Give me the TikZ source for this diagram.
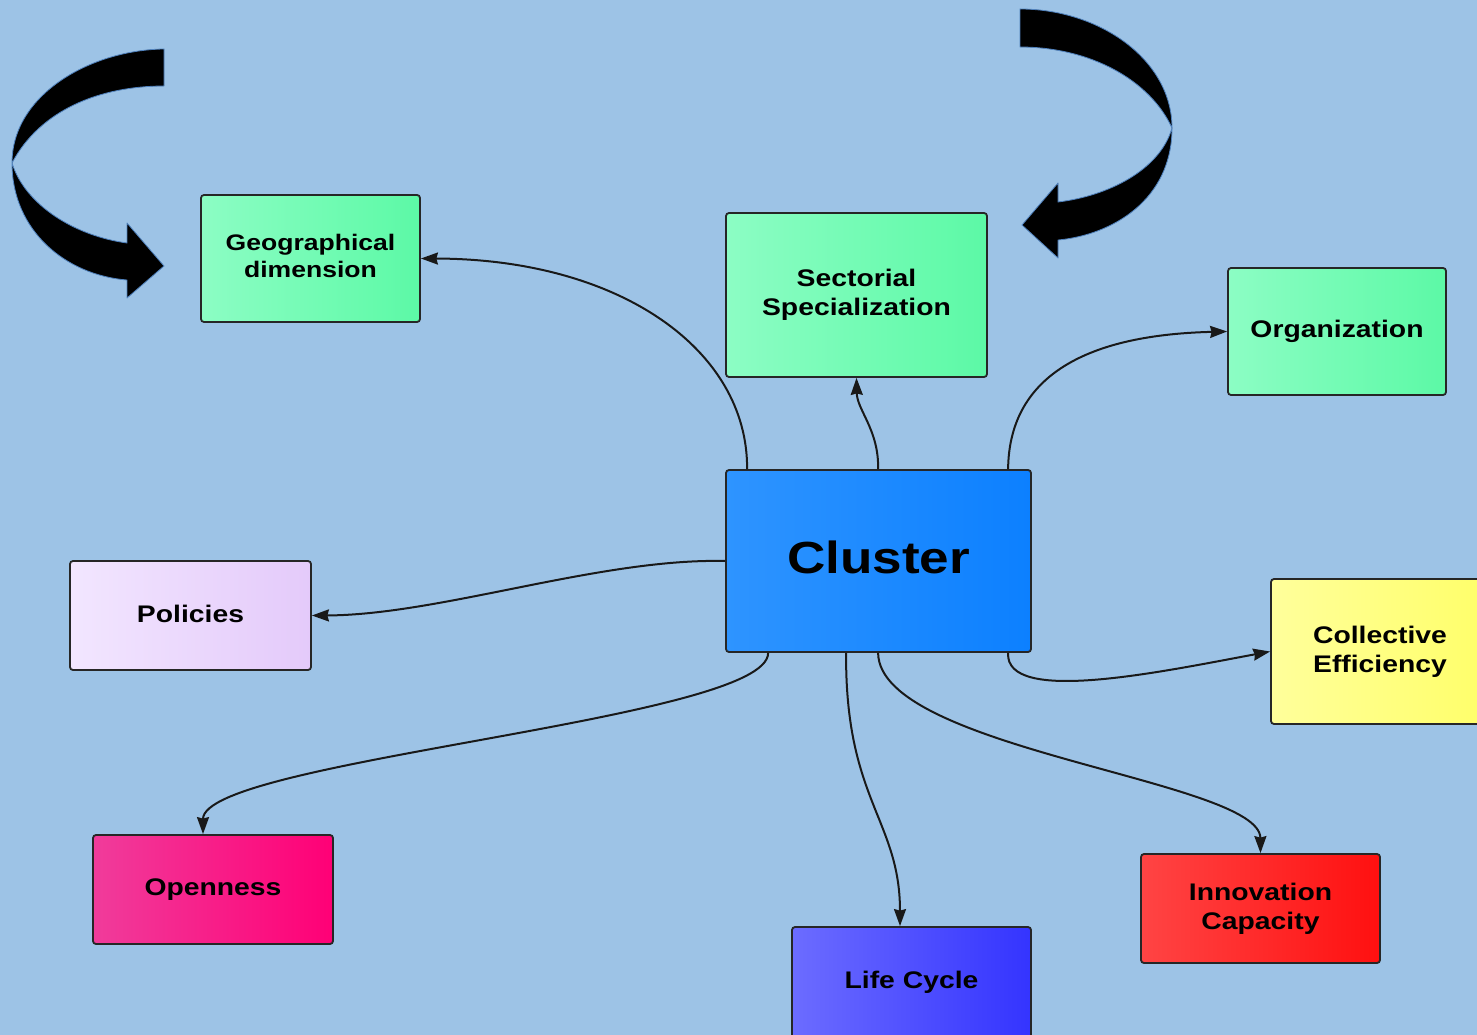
\documentclass[tikz,border=0pt]{standalone}
\usepackage{fontspec}
\setmainfont[FakeStretch=1.18]{Liberation Sans}
\usetikzlibrary{arrows.meta}
\definecolor{bg}{RGB}{157,195,230}
\definecolor{bigline}{RGB}{80,130,190}
\newcommand{\fsz}[2]{\fontsize{#1}{#2}\selectfont\bfseries}
\tikzset{
  box/.style={draw=black!85, line width=1.8pt, rounded corners=3pt, inner sep=0pt, align=center, text=black},
  grn/.style={left color={rgb,255:red,140;green,253;blue,196}, right color={rgb,255:red,92;green,249;blue,166}},
  conn/.style={draw=black!90, line width=2pt, -{Stealth[length=17pt,width=12pt,inset=1.5pt]}},
  bigarrow/.style={fill=black, draw=bigline, line width=0.8pt, line join=round},
}
\begin{document}
\begin{tikzpicture}[x=1pt,y=-1pt]
\clip (0,0) rectangle (1477,1035);
\fill[bg] (0,0) rectangle (1477,1035);

% big curved arrows
\path[bigarrow] (164,49) .. controls (90,50) and (12,95) .. (12,163)
  .. controls (12,230) and (65,275) .. (127,280)
  -- (127,298) -- (164,266) -- (127,223) -- (127,243)
  .. controls (75,236) and (25,205) .. (12,163)
  .. controls (40,110) and (100,86) .. (164,86) -- cycle;
\path[bigarrow] (1020,9) .. controls (1100,9) and (1172,60) .. (1172,128)
  .. controls (1172,200) and (1112,235) .. (1058,240)
  -- (1058,258) -- (1022,225) -- (1058,183) -- (1058,202)
  .. controls (1108,196) and (1160,170) .. (1172,128)
  .. controls (1150,80) and (1090,47) .. (1020,47) -- cycle;

% nodes
\node[box, grn, minimum width=219, minimum height=127, font=\fsz{22.5}{26.5}] (geo) at (310.5,258.5) {\raisebox{3pt}{\begin{tabular}{@{}c@{}}Geographical\\dimension\end{tabular}}};
\node[box, grn, minimum width=261, minimum height=164, font=\fsz{24}{29}] (sec) at (856.5,295) {Sectorial\\Specialization};
\node[box, grn, minimum width=218, minimum height=127, font=\fsz{24}{29}] (org) at (1337,331.5) {Organization};
\node[box, left color={rgb,255:red,46;green,148;blue,255}, right color={rgb,255:red,12;green,128;blue,255}, minimum width=305, minimum height=182, font=\fsz{45}{50}] (cl) at (878.5,561) {\raisebox{7pt}{Cluster}};
\node[box, left color={rgb,255:red,242;green,230;blue,255}, right color={rgb,255:red,228;green,202;blue,250}, minimum width=241, minimum height=109, font=\fsz{24}{29}] (pol) at (190.5,615.5) {\raisebox{3pt}{Policies}};
\node[box, left color={rgb,255:red,255;green,255;blue,155}, right color={rgb,255:red,255;green,255;blue,105}, minimum width=218, minimum height=145, font=\fsz{24}{29}] (col) at (1380,651.5) {Collective\\Efficiency};
\node[box, left color={rgb,255:red,240;green,60;blue,155}, right color={rgb,255:red,255;green,0;blue,118}, minimum width=240, minimum height=109, font=\fsz{24}{29}] (open) at (213,889.5) {Openness};
\node[box, left color={rgb,255:red,108;green,108;blue,255}, right color={rgb,255:red,52;green,52;blue,255}, minimum width=239, minimum height=116, font=\fsz{24}{29}] (life) at (911.5,985) {\raisebox{10pt}{Life Cycle}};
\node[box, left color={rgb,255:red,255;green,68;blue,68}, right color={rgb,255:red,255;green,16;blue,16}, minimum width=239, minimum height=109, font=\fsz{24}{29}] (inn) at (1260.5,908.5) {Innovation\\Capacity};

% connectors
\draw[conn] ([xshift=22pt]cl.north west) .. controls (748,350) and (620,259) .. (geo.east);
\draw[conn] ([xshift=153pt]cl.north west) .. controls (879,430) and (857,410) .. (sec.south);
\draw[conn] ([xshift=283pt]cl.north west) .. controls (1009,380) and (1080,335) .. (org.west);
\draw[conn] (cl.west) .. controls (600,558) and (440,615) .. (pol.east);
\draw[conn] ([xshift=283pt]cl.south west) .. controls (1005,705) and (1160,672) .. (col.west);
\draw[conn] ([xshift=153pt]cl.south west) .. controls (879,750) and (1260,780) .. (inn.north);
\draw[conn] ([xshift=121pt]cl.south west) .. controls (845,800) and (900,820) .. ([xshift=-11.5pt]life.north);
\draw[conn] ([xshift=43pt]cl.south west) .. controls (769,720) and (203,760) .. ([xshift=-10pt]open.north);
\end{tikzpicture}
\end{document}
